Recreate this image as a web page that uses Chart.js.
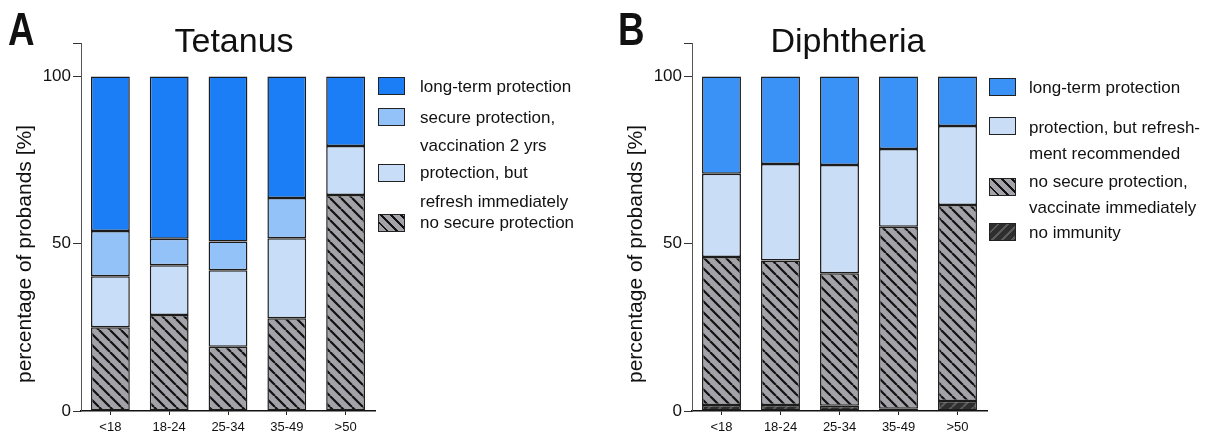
<!DOCTYPE html>
<html>
<head>
<meta charset="utf-8">
<script src="https://cdn.jsdelivr.net/npm/chart.js@4.4.0/dist/chart.umd.min.js"></script>
<style>
  body { margin: 0; background: #fff; font-family: 'Liberation Sans', Arial, sans-serif; color: #111; }
  #page { position: relative; width: 1215px; height: 437px; overflow: hidden; }
  canvas { position: absolute; top: 0; }
  .lbl { position: absolute; white-space: nowrap; line-height: 1.2; }
  .panel { font-weight: bold; font-size: 46px; transform: scaleX(0.8); transform-origin: left top; }
  .ytitle { font-size: 21px; transform: translate(-50%, -50%) rotate(-90deg); }
  .sw { position: absolute; width: 25px; height: 16px; border: 1.5px solid #222; }
</style>
</head>
<body>
<div id="page">
  <canvas id="tetanus" width="380" height="437" style="left:0"></canvas>
  <canvas id="diphtheria" width="381" height="437" style="left:611px"></canvas>
</div>
<script>
// ---- data ----
const AGE_GROUPS = ['<18', '18-24', '25-34', '35-49', '>50'];
const Y_TICKS = [0, 50, 100, 110];

// Tetanus (stacked bottom -> top)
const TET_NO_SECURE = [25.0, 28.7, 19.2, 27.7, 64.6];
const TET_PROT_BUT  = [15.3, 14.9, 22.9, 23.9, 14.6];
const TET_SECURE    = [13.5, 7.9, 8.6, 12.1, null];
const TET_LONG_TERM = [46.2, 48.5, 49.3, 36.3, 20.8];

// Diphtheria (stacked bottom -> top)
const DIP_NO_IMMUNITY = [1.8, 1.8, 1.6, 0.7, 3.0];
const DIP_NO_SECURE   = [44.2, 43.2, 39.6, 54.4, 58.6];
const DIP_PROT_BUT    = [24.9, 28.8, 32.3, 23.2, 23.6];
const DIP_LONG_TERM   = [29.1, 26.2, 26.5, 21.7, 14.8];

const TET_LEGEND = [
  ['long-term protection'],
  ['secure protection,', 'vaccination 2 yrs'],
  ['protection, but', 'refresh immediately'],
  ['no secure protection']
];
const DIP_LEGEND = [
  ['long-term protection'],
  ['protection, but refresh-', 'ment recommended'],
  ['no secure protection,', 'vaccinate immediately'],
  ['no immunity']
];

// ---- helpers ----
const FONT = "'Liberation Sans', Arial, sans-serif";
const page = document.getElementById('page');

function hatch(bg, fg, dir) {
  const s = 11;
  const c = document.createElement('canvas');
  c.width = s; c.height = s;
  const g = c.getContext('2d');
  g.fillStyle = bg; g.fillRect(0, 0, s, s);
  g.strokeStyle = fg; g.lineWidth = 2.2;
  g.beginPath();
  for (const k of [-s, 0, s]) {
    if (dir === '\\') { g.moveTo(k, 0); g.lineTo(k + s, s); }
    else { g.moveTo(k, s); g.lineTo(k + s, 0); }
  }
  g.stroke();
  return g.createPattern(c, 'repeat');
}

const HATCH_GRAY = hatch('#a2a2a8', '#111', '\\');
const HATCH_DARK = hatch('#2e2e2e', '#5c5c5c', '/');

function addText(x, cy, text, size, cls) {
  const d = document.createElement('div');
  d.className = 'lbl ' + (cls || '');
  d.textContent = text;
  d.style.left = x + 'px';
  d.style.top = (cy - size * 0.6) + 'px';
  d.style.fontSize = size + 'px';
  page.appendChild(d);
  return d;
}

function addSwatch(x, cy, bg) {
  const d = document.createElement('div');
  d.className = 'sw';
  d.style.left = x + 'px';
  d.style.top = (cy - 9) + 'px';
  d.style.background = bg;
  page.appendChild(d);
}

function ds(label, data, color) {
  return {
    label, data,
    backgroundColor: color,
    borderColor: '#1c1c1c',
    borderWidth: 1.5,
    borderSkipped: false,
    categoryPercentage: 1,
    barPercentage: 0.66
  };
}

function makeChart(id, datasets) {
  new Chart(document.getElementById(id), {
    type: 'bar',
    data: { labels: AGE_GROUPS, datasets },
    options: {
      responsive: false,
      animation: false,
      layout: { padding: { top: 43, right: 5, left: 0, bottom: 0 } },
      plugins: { legend: { display: false }, tooltip: { enabled: false } },
      scales: {
        x: {
          stacked: true,
          afterFit: s => { s.height = 26; },
          grid: { drawOnChartArea: false, offset: false, tickLength: 4, color: '#222' },
          border: { color: '#111', width: 1.5 },
          ticks: { padding: 5, color: '#111', font: { family: FONT, size: 13 } }
        },
        y: {
          stacked: true,
          min: 0, max: 110,
          afterFit: s => { s.width = 81; },
          afterBuildTicks: s => { s.ticks = Y_TICKS.map(v => ({ value: v })); },
          grid: { drawOnChartArea: false, tickLength: 8, color: '#333' },
          border: { color: '#555', width: 1 },
          ticks: {
            padding: 2, color: '#111', font: { family: FONT, size: 17 },
            callback: v => (v === 110 ? '' : v)
          }
        }
      }
    }
  });
}

// ---- Tetanus ----
makeChart('tetanus', [
  ds('no secure protection', TET_NO_SECURE, HATCH_GRAY),
  ds('protection, but refresh immediately', TET_PROT_BUT, '#c8def8'),
  ds('secure protection, vaccination 2 yrs', TET_SECURE, '#93c2f8'),
  ds('long-term protection', TET_LONG_TERM, '#1b7ef6')
]);

// ---- Diphtheria ----
makeChart('diphtheria', [
  ds('no immunity', DIP_NO_IMMUNITY, HATCH_DARK),
  ds('no secure protection, vaccinate immediately', DIP_NO_SECURE, HATCH_GRAY),
  ds('protection, but refreshment recommended', DIP_PROT_BUT, '#c9ddf7'),
  ds('long-term protection', DIP_LONG_TERM, '#3a92f7')
]);

// ---- titles, panel letters, axis titles ----
addText(8, 30, 'A', 46, 'panel');
addText(618, 30, 'B', 46, 'panel');
const t1 = addText(0, 40, 'Tetanus', 34); t1.style.left = (234 - t1.offsetWidth / 2) + 'px';
const t2 = addText(0, 40, 'Diphtheria', 34); t2.style.left = (848 - t2.offsetWidth / 2) + 'px';
const y1 = addText(24, 254, 'percentage of probands [%]', 21, 'ytitle'); y1.style.top = '254px';
const y2 = addText(635, 254, 'percentage of probands [%]', 21, 'ytitle'); y2.style.top = '254px';

// ---- legends ----
const GRAD_GRAY = 'repeating-linear-gradient(45deg, #a2a2a8 0 5px, #111 5px 7px)';
const GRAD_DARK = 'repeating-linear-gradient(135deg, #2e2e2e 0 5px, #5c5c5c 5px 7px)';

const tetLines = [[86.7], [118, 146], [172.7, 201.7], [223.3]];
const tetSw = [86, 117, 173, 222.5];
const tetCol = ['#1b7ef6', '#93c2f8', '#c8def8', GRAD_GRAY];
TET_LEGEND.forEach((lines, i) => {
  addSwatch(378, tetSw[i], tetCol[i]);
  lines.forEach((t, j) => addText(420, tetLines[i][j], t, 17));
});

const dipLines = [[88], [128, 154], [182, 208], [233]];
const dipSw = [87, 126, 187, 232];
const dipCol = ['#3a92f7', '#c9ddf7', GRAD_GRAY, GRAD_DARK];
DIP_LEGEND.forEach((lines, i) => {
  addSwatch(989, dipSw[i], dipCol[i]);
  lines.forEach((t, j) => addText(1029, dipLines[i][j], t, 17));
});
</script>
</body>
</html>
